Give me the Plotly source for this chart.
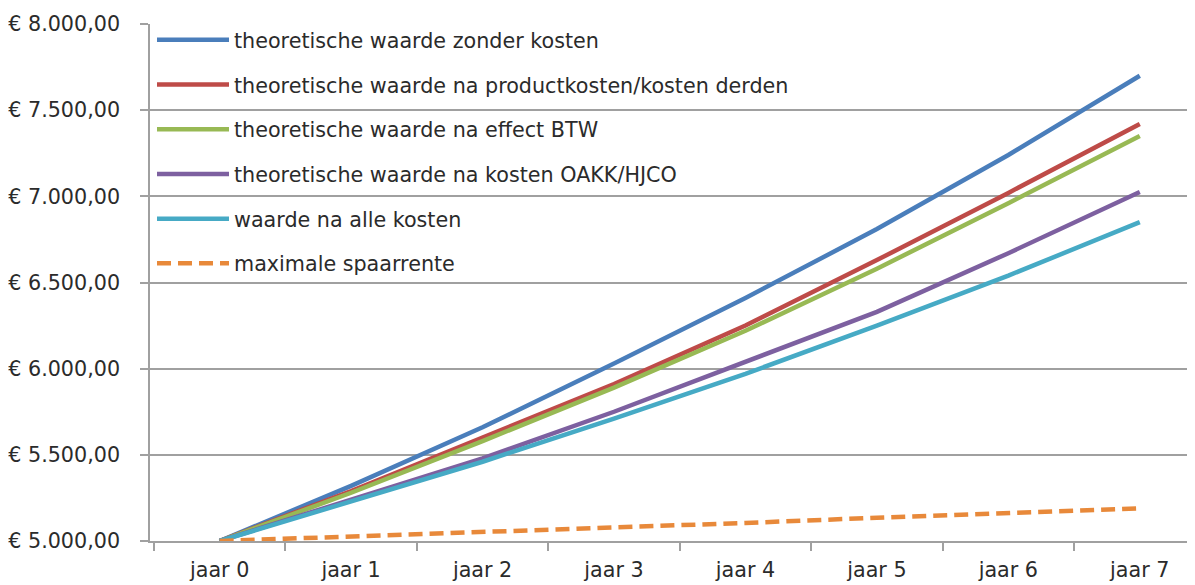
import plotly.graph_objects as go

categories = ["jaar 0", "jaar 1", "jaar 2", "jaar 3", "jaar 4", "jaar 5", "jaar 6", "jaar 7"]

zonder_kosten = [5000, 5320, 5660, 6030, 6410, 6810, 7240, 7700]
na_productkosten = [5000, 5290, 5600, 5910, 6250, 6630, 7020, 7420]
na_btw = [5000, 5280, 5580, 5890, 6220, 6580, 6960, 7350]
na_oakk = [5000, 5240, 5480, 5750, 6040, 6330, 6670, 7025]
na_alle_kosten = [5000, 5230, 5460, 5710, 5970, 6250, 6540, 6850]
spaarrente = [5000, 5025, 5050, 5080, 5105, 5135, 5160, 5190]

names = [
    "theoretische waarde zonder kosten",
    "theoretische waarde na productkosten/kosten derden",
    "theoretische waarde na effect BTW",
    "theoretische waarde na kosten OAKK/HJCO",
    "waarde na alle kosten",
    "maximale spaarrente",
]
series = [zonder_kosten, na_productkosten, na_btw, na_oakk, na_alle_kosten, spaarrente]
colors = ["#4A7EBB", "#BE4B48", "#98B954", "#7D60A0", "#46AAC5", "#E8893A"]
dashes = ["solid", "solid", "solid", "solid", "solid", "14px,7px"]

y_tickvals = [5000, 5500, 6000, 6500, 7000, 7500, 8000]
y_ticktext = ["€ 5.000,00", "€ 5.500,00", "€ 6.000,00", "€ 6.500,00",
              "€ 7.000,00", "€ 7.500,00", "€ 8.000,00"]

fig = go.Figure()
for i, (n, s, c, d) in enumerate(zip(names, series, colors, dashes)):
    fig.add_trace(go.Scatter(
        x=categories, y=s, name=n, mode="lines",
        line=dict(color=c, width=4.5, dash=d),
        legendgroup=f"g{i}",
    ))

font_family = "DejaVu Sans"
text_color = "#2b2b2b"
fs = 20.7
# the page body adds an 8px offset; the figure is sized to fill the rest of the window
fig.update_layout(
    width=1187, height=577,
    margin=dict(l=142, r=0, t=16, b=44, autoexpand=False),
    paper_bgcolor="white", plot_bgcolor="white",
    font=dict(family=font_family, size=fs, color=text_color),
    showlegend=True,
    legend=dict(
        x=(152 - 150) / 1045, y=1.008, xanchor="left", yanchor="top",
        bgcolor="rgba(0,0,0,0)", borderwidth=0,
        tracegroupgap=14.8, itemwidth=72,
        font=dict(family=font_family, size=fs, color=text_color),
    ),
    xaxis=dict(
        type="category", range=[-0.53, 7.42], automargin=False,
        showgrid=False, showline=True, linecolor="#A0A0A0", linewidth=1.5,
        ticks="outside", ticklen=8, tickcolor="#A0A0A0", tickwidth=1.5,
        tickson="boundaries", ticklabelstandoff=9,
        tickfont=dict(family=font_family, size=fs, color=text_color),
        zeroline=False, fixedrange=True,
    ),
    yaxis=dict(
        range=[5000, 8000], tickvals=y_tickvals, ticktext=y_ticktext,
        automargin=False,
        showgrid=True, gridcolor="#A0A0A0", gridwidth=1.5,
        showline=True, linecolor="#A0A0A0", linewidth=1.5,
        ticks="outside", ticklen=8, tickcolor="#A0A0A0", tickwidth=1.5,
        ticklabelstandoff=16,
        tickfont=dict(family=font_family, size=fs, color=text_color),
        zeroline=False, fixedrange=True,
    ),
)

fig.write_html("out.html")
